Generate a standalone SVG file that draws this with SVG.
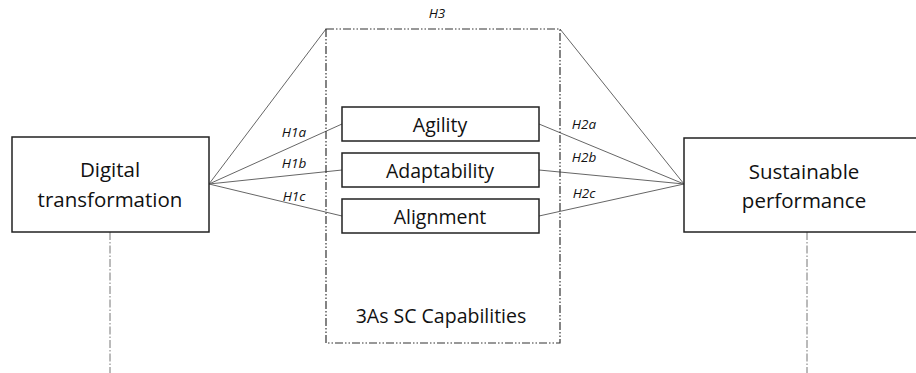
<svg xmlns="http://www.w3.org/2000/svg" width="916" height="373" viewBox="0 0 916 373">
<style>
.box{fill:#fff;stroke:#222;stroke-width:1.5}
.t{font-family:"Open Sans","Liberation Sans",sans-serif;fill:#111;text-anchor:middle}
.big{font-size:20.5px}
.mid{font-size:19.5px}
.lab{font-family:"Open Sans","Liberation Sans",sans-serif;font-size:13.5px;font-style:italic;fill:#111;text-anchor:middle}
.ln{stroke:#666;stroke-width:1;fill:none}
.dd{stroke:#333;stroke-width:1.2;fill:none;stroke-dasharray:8 2 1.5 2 1.5 2}
.dv{stroke:#777;stroke-width:1;fill:none;stroke-dasharray:8 2 1.5 2}
</style>
<rect width="916" height="373" fill="#fff"/>
<g id="connectors">
<line class="ln" x1="209" y1="184" x2="326" y2="29"/>
<line class="ln" x1="209" y1="184" x2="342" y2="124"/>
<line class="ln" x1="209" y1="184" x2="342" y2="170"/>
<line class="ln" x1="209" y1="184" x2="342" y2="216"/>
<line class="ln" x1="560" y1="29" x2="684" y2="184"/>
<line class="ln" x1="539" y1="124" x2="684" y2="184"/>
<line class="ln" x1="539" y1="170" x2="684" y2="184"/>
<line class="ln" x1="539" y1="216" x2="684" y2="184"/>
<line class="dv" x1="110" y1="232" x2="110" y2="373"/>
<line class="dv" x1="807" y1="232" x2="807" y2="373"/>
<text class="lab" x="437" y="18">H3</text>
<text class="lab" x="294" y="137">H1a</text>
<text class="lab" x="294" y="168">H1b</text>
<text class="lab" x="294" y="201">H1c</text>
<text class="lab" x="584" y="129">H2a</text>
<text class="lab" x="584" y="162">H2b</text>
<text class="lab" x="584" y="198">H2c</text>
</g>
<g id="capabilities">
<rect class="dd" x="326" y="29" width="234" height="314"/>
<text class="t mid" x="441" y="323">3As SC Capabilities</text>
</g>
<g id="digital">
<rect class="box" x="12" y="137" width="197" height="95"/>
<text class="t big" x="110" y="177">Digital</text>
<text class="t big" x="110" y="207">transformation</text>
</g>
<g id="sustainable">
<rect class="box" x="684" y="138" width="240" height="94"/>
<text class="t big" x="804" y="179">Sustainable</text>
<text class="t big" x="804" y="208">performance</text>
</g>
<g id="agility">
<rect class="box" x="342" y="107" width="197" height="34"/>
<text class="t mid" x="440" y="132">Agility</text>
</g>
<g id="adaptability">
<rect class="box" x="342" y="153" width="197" height="34"/>
<text class="t mid" x="440" y="178">Adaptability</text>
</g>
<g id="alignment">
<rect class="box" x="342" y="199" width="197" height="34"/>
<text class="t mid" x="440" y="224">Alignment</text>
</g>
</svg>
